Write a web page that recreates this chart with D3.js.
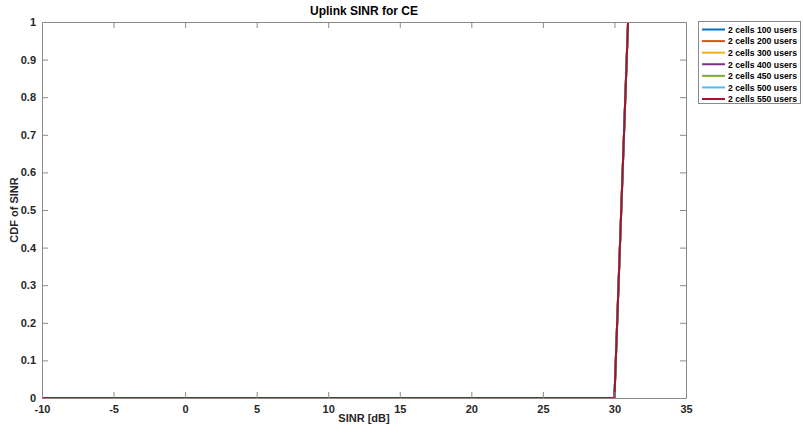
<!DOCTYPE html>
<html><head><meta charset="utf-8">
<script src="https://cdn.jsdelivr.net/npm/d3@7"></script>
<style>body{margin:0;background:#fff;} svg{display:block;font-family:"Liberation Sans",Arial,sans-serif;}</style>
</head><body><svg id="c" width="803" height="434"></svg>
<script>
const seriesNames = ["2 cells 100 users","2 cells 200 users","2 cells 300 users","2 cells 400 users","2 cells 450 users","2 cells 500 users","2 cells 550 users"];
const seriesColors = ["#0072BD","#D95319","#EDB120","#7E2F8E","#77AC30","#4DBEEE","#A2142F"];
const sinrX = [-10, 30, 30.95];
const cdf100 = [0, 0, 1];
const cdf200 = [0, 0, 1];
const cdf300 = [0, 0, 1];
const cdf400 = [0, 0, 1];
const cdf450 = [0, 0, 1];
const cdf500 = [0, 0, 1];
const cdf550 = [0, 0, 1];
const seriesValues = [cdf100,cdf200,cdf300,cdf400,cdf450,cdf500,cdf550];
const xTicks = [-10,-5,0,5,10,15,20,25,30,35];
const yTicks = [0,0.1,0.2,0.3,0.4,0.5,0.6,0.7,0.8,0.9,1];

const svg = d3.select("#c");
const L=42, R=686, T=22, B=398;
const x = d3.scaleLinear().domain([-10,35]).range([L,R]);
const y = d3.scaleLinear().domain([0,1]).range([B,T]);
const axisCol = "#8a8a8a", txtCol = "#262626";
const tl = 6;

const g = svg.append("g");
g.append("rect").attr("x",L).attr("y",T).attr("width",R-L).attr("height",B-T).attr("fill","#fff");

// lines
const line = d3.line().x((d,i)=>x(sinrX[i])).y(d=>y(d));
seriesValues.forEach((vals,k)=>{
  g.append("path").datum(vals).attr("d",line).attr("fill","none")
    .attr("stroke",seriesColors[k]).attr("stroke-width",2);
});

// axes
function styleAxis(sel){
  sel.select(".domain").attr("stroke",axisCol);
  sel.selectAll(".tick line").attr("stroke",axisCol);
  sel.selectAll(".tick text").attr("fill",txtCol).attr("font-weight","bold").attr("font-size","11px");
}
const fmt = d=>String(d);
const xb = svg.append("g").attr("transform",`translate(0,${B})`)
  .call(d3.axisBottom(x).tickValues(xTicks).tickFormat(fmt).tickSizeInner(-tl).tickSizeOuter(0).tickPadding(5));
styleAxis(xb);
xb.selectAll(".tick text").attr("dy","0.95em");
const xt = svg.append("g").attr("transform",`translate(0,${T})`)
  .call(d3.axisTop(x).tickValues(xTicks).tickFormat("").tickSizeInner(-tl).tickSizeOuter(0));
styleAxis(xt);
const yl = svg.append("g").attr("transform",`translate(${L},0)`)
  .call(d3.axisLeft(y).tickValues(yTicks).tickFormat(fmt).tickSizeInner(-tl).tickSizeOuter(0).tickPadding(6));
styleAxis(yl);
const yr = svg.append("g").attr("transform",`translate(${R},0)`)
  .call(d3.axisRight(y).tickValues(yTicks).tickFormat("").tickSizeInner(-tl).tickSizeOuter(0));
styleAxis(yr);
[xb,xt].forEach(a=>a.selectAll(".tick line").filter(d=>d===-10||d===35).remove());
[yl,yr].forEach(a=>a.selectAll(".tick line").filter(d=>d===0||d===1).remove());

// title & labels
svg.append("text").attr("x",(L+R)/2).attr("y",15).attr("text-anchor","middle")
  .attr("font-weight","bold").attr("font-size","12px").attr("fill","#000").text("Uplink SINR for CE");
svg.append("text").attr("x",(L+R)/2).attr("y",422).attr("text-anchor","middle")
  .attr("font-weight","bold").attr("font-size","11px").attr("fill",txtCol).text("SINR [dB]");
svg.append("text").attr("transform",`translate(18,${(T+B)/2}) rotate(-90)`).attr("text-anchor","middle")
  .attr("font-weight","bold").attr("font-size","11px").attr("fill",txtCol).text("CDF of SINR");

// legend
const lg = svg.append("g");
lg.append("rect").attr("x",698.5).attr("y",21.5).attr("width",102).attr("height",82)
  .attr("fill","#fff").attr("stroke",axisCol);
const ly = d3.scalePoint().domain(seriesNames).range([29.5,99]);
seriesNames.forEach((n,k)=>{
  const yy = ly(n);
  lg.append("line").attr("x1",702).attr("x2",725).attr("y1",yy).attr("y2",yy)
    .attr("stroke",seriesColors[k]).attr("stroke-width",2);
  lg.append("text").attr("x",728).attr("y",yy).attr("dy","0.35em").attr("font-size","9.5px")
    .attr("font-weight","bold").attr("fill","#000")
    .attr("textLength",69).attr("lengthAdjust","spacingAndGlyphs").text(n);
});
</script></body></html>
